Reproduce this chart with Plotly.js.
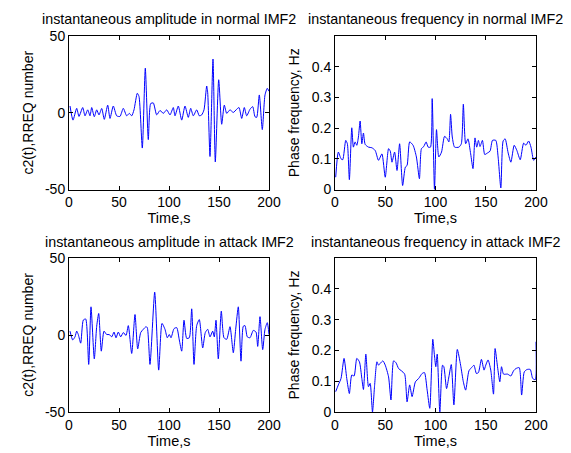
<!DOCTYPE html>
<html>
<head>
<meta charset="utf-8">
<script src="https://cdn.plot.ly/plotly-3.0.1.min.js"></script>
<style>html,body{margin:0;padding:0;background:#fff;}#chart{width:571px;height:453px;}</style>
</head>
<body>
<div id="chart"></div>
<script>
// Top-left: instantaneous amplitude, normal
const ampNormalT = [1,4,7.7,10,13.7,16,18.7,21,22.7,25.3,27.7,30,32.7,35.3,38.7,41,44.3,47.7,51,54.3,57.7,60.3,62.7,65,68.3,70,73.3,76.3,79.3,81.7,84.3,87.7,91,94.3,97.7,101,104.3,106,109.3,112.7,116,119.3,121.7,124.3,127.7,130.3,132.7,135,137.7,138.7,141,144,146.3,149.7,152.7,155.3,157.7,161,164.3,167.7,170,172.7,175.3,177.7,181,183.7,186,187.7,190.3,193.3,196,198.3,200];
const ampNormalV = [4.4,-4.8,2.9,-2.4,3.4,-2,1.9,-2,3.4,-2.6,1.9,-1.4,2.8,-4.3,5,-3.7,4.4,-2,-2.4,2.9,-2,-0.4,-2,1.9,12.7,10.6,-23,29,-17.5,6,6.4,-1.4,1.5,-0.4,1.9,-1.4,3.4,-2,4.4,-4.8,4.4,-3,2.9,-2,1.9,-2,-1.4,1.9,17.4,13,-28.5,35,-32,21.5,-7.5,5,-0.4,1.9,0.2,2.3,3.4,-3.7,3.4,-2,2.3,4,-2.6,-3,11.6,-11,11.6,15.9,14];

// Top-right: instantaneous frequency, normal
const freqNormalT = [0.7,3.3,6,7.7,10.7,12.3,14.3,16.7,18.3,20,21.7,23.3,25,26.7,28.3,30,33.3,36.7,40,43.3,46.7,50,53.3,55,56.7,59.3,61.7,64.3,67.3,70,71.7,74.3,77.7,81,84,86,88.3,90.7,92.7,95,96.7,99,101,103.3,106,109,111.7,113.3,115,116.7,119,123.3,125.7,127.7,130,132.3,135,137.3,139.3,141,142.7,144.3,146.7,149,151.7,154.3,156.7,160,162.3,165,167.3,169.3,172.3,175,178.3,181,184.3,187.7,190,192.7,195,197.7,200];
const freqNormalV = [0.040,0.122,0.100,0.097,0.160,0.149,0.032,0.201,0.138,0.155,0.144,0.171,0.223,0.149,0.184,0.147,0.138,0.136,0.127,0.095,0.116,0.040,0.133,0.125,0.089,0.122,0.062,0.149,0.013,0.073,0.078,0.155,0.144,0.106,0.035,0.133,0.140,0.155,0.138,0.138,0.296,0.0,0.195,0.106,0.122,0.173,0.165,0.155,0.245,0.171,0.138,0.138,0.149,0.278,0.149,0.165,0.116,0.068,0.168,0.138,0.160,0.140,0.160,0.114,0.119,0.125,0.160,0.160,0.106,0.005,0.158,0.165,0.119,0.089,0.144,0.127,0.097,0.151,0.144,0.158,0.138,0.095,0.106];

// Bottom-left: instantaneous amplitude, attack
const ampAttackT = [1,3.7,6,7.7,9.3,11.7,14.3,16.7,19.7,22,25.3,27.7,29.7,32.3,35,37.7,40.3,42.7,45,47,49.3,51.7,54.3,57,59.3,62.7,66,68.7,71.7,74.3,77,78.3,81,85.7,89.7,93,96,98.3,100.3,102,105,107.7,110.3,112.7,115,117.7,120.3,122.7,125,127.7,130.3,133.7,136.3,138.7,141,143.7,145.3,147,149.3,152.3,155,157.7,161,164.3,166.7,169.3,172,174.3,176,178.3,181,184.3,187,188.7,191,193.7,196,198.3,200];
const ampAttackV = [2.5,-3.2,-1.2,2.5,0.3,-5.3,9.7,10.4,-19.1,18.3,-15.5,5.7,14,-10.5,2.5,0.3,0.3,-1.2,1.9,-1.8,1.9,-1.2,1.6,-0.3,6.1,-12,13.3,-9,1.6,3.7,5.4,4.8,-19.1,27.8,-22.8,7.5,3.7,-1.8,0.3,-1.8,4.1,4.8,-3.2,-10.5,9.6,-2.2,-1.8,17,-19.1,6.1,10,-8.4,1.6,3.7,-1.2,2.5,-1.2,9.6,-15.5,15.5,-1.8,-2.8,5.4,-11.5,3.7,18.3,-17,5.7,6.1,-1.2,-1.8,3,1.9,-7.4,11.9,-9.5,3.7,8,0.3];

// Bottom-right: instantaneous frequency, attack
const freqAttackT = [0.7,3.3,6,9,11.7,14.3,16.7,19,21.7,24.3,26.7,28.3,30.7,33.3,35,37.3,39.3,41.7,43.3,45,47.7,50,53.3,55.7,58.3,60.7,63.3,66,69.3,71.7,74.3,76.7,80,83.3,86.7,89,91.7,94.3,97.3,99,100.3,101.7,104.3,107,108.3,111,113.3,115.7,118.3,121.7,125,127.7,130,133.3,136.7,138.3,140.7,142.7,145.7,148.3,150,152.3,155,157.7,159.3,161.7,164,165.7,167.7,171.7,175,177.7,180,183.3,185.7,188.3,191,194.3,196.7,199.3,200];
const freqAttackV = [0.066,0.088,0.109,0.174,0.109,0.060,0.120,0.117,0.174,0.163,0.109,0.073,0.188,0.082,0.093,0.0,0.082,0.163,0.152,0.158,0.166,0.152,0.114,0.039,0.166,0.160,0.141,0.134,0.123,0.033,0.088,0.050,0.098,0.109,0.125,0.128,0.071,0.012,0.236,0.182,0.147,0.188,0.0,0.152,0.147,0.076,0.114,0.154,0.023,0.203,0.152,0.098,0.071,0.134,0.147,0.152,0.125,0.128,0.171,0.136,0.152,0.169,0.136,0.058,0.206,0.147,0.098,0.147,0.123,0.123,0.117,0.134,0.141,0.144,0.055,0.130,0.138,0.138,0.109,0.105,0.228];

const xTicks = [0,50,100,150,200];
const ampTicks = [-50,0,50];
const freqTicks = [0,0.1,0.2,0.3,0.4];

const titles = [
  'instantaneous amplitude in normal IMF2',
  'instantaneous frequency in normal IMF2',
  'instantaneous amplitude in attack IMF2',
  'instantaneous frequency in attack IMF2'
];

const lineStyle = {color: '#0000ff', width: 1, shape: 'spline', smoothing: 0.6};
const traces = [
  {x: ampNormalT, y: ampNormalV, xaxis: 'x', yaxis: 'y', mode: 'lines', line: lineStyle},
  {x: freqNormalT, y: freqNormalV, xaxis: 'x2', yaxis: 'y2', mode: 'lines', line: lineStyle},
  {x: ampAttackT, y: ampAttackV, xaxis: 'x3', yaxis: 'y3', mode: 'lines', line: lineStyle},
  {x: freqAttackT, y: freqAttackV, xaxis: 'x4', yaxis: 'y4', mode: 'lines', line: lineStyle}
];

const W = 571, H = 453;
const font = {family: 'Liberation Sans, Arial, sans-serif', size: 14, color: '#000'};
const titleFont = {family: 'Liberation Sans, Arial, sans-serif', size: 14.3, color: '#000'};
function xa(domain, anchor) {
  return {domain: domain, anchor: anchor, range: [0, 200], tickvals: xTicks, ticktext: xTicks.map(String),
    ticks: 'inside', ticklen: 4, tickcolor: '#000', showline: true, linecolor: '#000', linewidth: 1,
    mirror: 'ticks', showgrid: false, zeroline: false, tickfont: font,
    title: {text: 'Time,s', font: {family: font.family, size: 14.5, color: '#000'}, standoff: 1}};
}
function ya(domain, anchor, range, ticks, label) {
  return {domain: domain, anchor: anchor, range: range, tickvals: ticks, ticktext: ticks.map(String),
    ticks: 'inside', ticklen: 4, tickcolor: '#000', showline: true, linecolor: '#000', linewidth: 1,
    mirror: 'ticks', showgrid: false, zeroline: false, tickfont: font,
    title: {text: label, font: font, standoff: 8}};
}
const xL = [69/W, 269/W], xR = [335/W, 536/W];
const yT = [1 - 189.5/H, 1 - 36/H], yB = [1 - 412/H, 1 - 258/H];

const layout = {
  width: W, height: H,
  margin: {l: 0, r: 0, t: 0, b: 0},
  paper_bgcolor: '#fff', plot_bgcolor: '#fff',
  showlegend: false, font: font,
  xaxis: xa(xL, 'y'), yaxis: ya(yT, 'x', [-50, 50], ampTicks, 'c2(t),RREQ number'),
  xaxis2: xa(xR, 'y2'), yaxis2: ya(yT, 'x2', [0, 0.5], freqTicks, 'Phase frequency, Hz'),
  xaxis3: xa(xL, 'y3'), yaxis3: ya(yB, 'x3', [-50, 50], ampTicks, 'c2(t),RREQ number'),
  xaxis4: xa(xR, 'y4'), yaxis4: ya(yB, 'x4', [0, 0.5], freqTicks, 'Phase frequency, Hz'),
  annotations: [
    {text: titles[0], x: (xL[0]+xL[1])/2, y: 1 - 19/H},
    {text: titles[1], x: (xR[0]+xR[1])/2, y: 1 - 19/H},
    {text: titles[2], x: (xL[0]+xL[1])/2, y: 1 - 242/H},
    {text: titles[3], x: (xR[0]+xR[1])/2, y: 1 - 242/H}
  ].map(a => Object.assign(a, {xref: 'paper', yref: 'paper', showarrow: false, xanchor: 'center', yanchor: 'middle', font: titleFont}))
};

Plotly.newPlot('chart', traces, layout, {staticPlot: true, displayModeBar: false});
</script>
</body>
</html>
